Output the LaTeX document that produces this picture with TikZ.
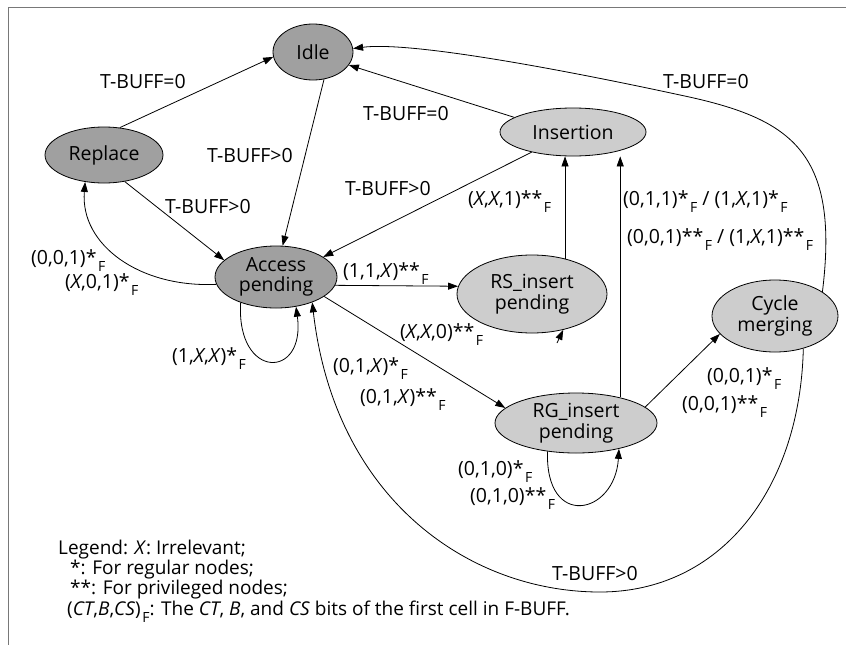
\documentclass[tikz,border=0pt]{standalone}
\usepackage{fontspec}
\setmainfont{Open Sans}
\usetikzlibrary{shapes.geometric,arrows.meta}
\definecolor{darkst}{RGB}{160,160,160}
\definecolor{lightst}{RGB}{205,205,205}
\definecolor{framec}{RGB}{120,120,120}
\newcommand\subF{\kern1.5pt\raisebox{-7.5pt}{\fontsize{14}{14}\selectfont F}}
\newcommand\X{\textit{X}}
\begin{document}
\begin{tikzpicture}[x=1pt,y=-1pt,
  state/.style={ellipse,draw,line width=0.8pt,inner sep=0pt,align=center,font=\fontsize{19.5}{20.5}\selectfont},
  dk/.style={state,fill=darkst},
  lt/.style={state,fill=lightst},
  lab/.style={anchor=base west,inner sep=0pt,font=\fontsize{19.5}{20.5}\selectfont},
  legendtext/.style={anchor=base west,inner sep=0pt,align=left,font=\fontsize{19}{17.7}\selectfont},
  arr/.style={-{Triangle[length=10pt,width=7pt]},line width=0.8pt},
  frameline/.style={framec,line width=1pt}]
\useasboundingbox (0,0) rectangle (846,645);
\fill[white] (0,0) rectangle (846,645);
\draw[frameline] (8,645) -- (8,7) -- (846,7);

% states
\node[dk,minimum width=80pt,minimum height=56pt] (idle) at (313,52) {Idle};
\node[dk,minimum width=118pt,minimum height=56pt] (replace) at (104,155) {Replace};
\node[dk,minimum width=122pt,minimum height=62pt] (access) at (276,277) {Access\\pending};
\node[lt,minimum width=146pt,minimum height=48pt] (insertion) at (573,132) {Insertion};
\node[lt,minimum width=150pt,minimum height=78pt] (rs) at (532,294) {RS\_insert\\pending};
\node[lt,minimum width=126pt,minimum height=72pt] (cycle) at (775,316) {Cycle\\merging};
\node[lt,minimum width=162pt,minimum height=60pt] (rg) at (576,423) {RG\_insert\\pending};

% connectors
\draw[arr] (replace.60) -- (idle.187);
\draw[arr] (idle.-68) -- (access.78);
\draw[arr] (replace.-52) -- (access.162);
\draw[arr] (access.187) .. controls (140,288) and (80,245) .. (replace.-125);
\draw[arr] (access.-144) .. controls (236,380) and (306,380) .. (access.-56);
\draw[arr] (insertion.166) -- (idle.-20);
\draw[arr] (insertion.-154) -- (access.23);
\draw[arr] (access.-8) -- (rs.174);
\draw[arr] (rs.47) -- (rs.47 |- insertion.south);
\draw[arr] (access.-22) -- (rg.168);
\draw[arr] (rg.30) -- (rg.30 |- insertion.south);
\draw[arr] (rg.13) -- (cycle.-162);
\draw[arr] (rg.-135) .. controls (545,530) and (615,515) .. (rg.-31);
\coordinate (topbend) at (680,95);
\draw[arr] (cycle.27) .. controls (840,150) and (790,118) .. (topbend)
  .. controls (620,82) and (420,40) .. (idle.5);
\coordinate (lowbend) at (600,592);
\draw[arr] (cycle.-49) .. controls (800,490) and (720,592) .. (lowbend)
  .. controls (470,592) and (335,500) .. (access.-35);
\coordinate (stub) at (557,343);
\draw[arr] (stub) -- (rs.-49);

% connector labels
\node[lab] (l1) at (100,88) {T-BUFF=0};
\node[lab] (l2) at (207,162) {T-BUFF>0};
\node[lab] (l3) at (165,213) {T-BUFF>0};
\node[lab] (l4) at (363,120) {T-BUFF=0};
\node[lab] (l5) at (345,195) {T-BUFF>0};
\node[lab] (l6) at (663,88) {T-BUFF=0};
\node[lab] (l7) at (552,580) {T-BUFF>0};
\node[lab] (l8) at (31,264) {(0,0,1)*\subF};
\node[lab] (l9) at (65,288) {(\X,0,1)*\subF};
\node[lab] (l10) at (172,362) {(1,\X,\X)*\subF};
\node[lab] (l11) at (343,277) {(1,1,\X)**\subF};
\node[lab] (l12) at (468,205) {(\X,\X,1)**\subF};
\node[lab] (l13) at (623,205) {(0,1,1)*\subF{} / (1,\X,1)*\subF};
\node[lab] (l14) at (627,243) {(0,0,1)**\subF{} / (1,\X,1)**\subF};
\node[lab] (l15) at (400,338) {(\X,\X,0)**\subF};
\node[lab] (l16) at (333,372) {(0,1,\X)*\subF};
\node[lab] (l17) at (360,403) {(0,1,\X)**\subF};
\node[lab] (l18) at (707,382) {(0,0,1)*\subF};
\node[lab] (l19) at (682,410) {(0,0,1)**\subF};
\node[lab] (l20) at (458,475) {(0,1,0)*\subF};
\node[lab] (l21) at (470,502) {(0,1,0)**\subF};

% legend (anchored at the baseline of its last line)
\node[legendtext] (legend) at (58,615) {Legend: \X: Irrelevant;\\
\hspace*{12pt}*: For regular nodes;\\
\hspace*{12pt}**: For privileged nodes;\\
\hspace*{9pt}(\textit{CT},\textit{B},\textit{CS})\subF: The \textit{CT}, \textit{B}, and \textit{CS} bits of the first cell in F-BUFF.};
\end{tikzpicture}
\end{document}
